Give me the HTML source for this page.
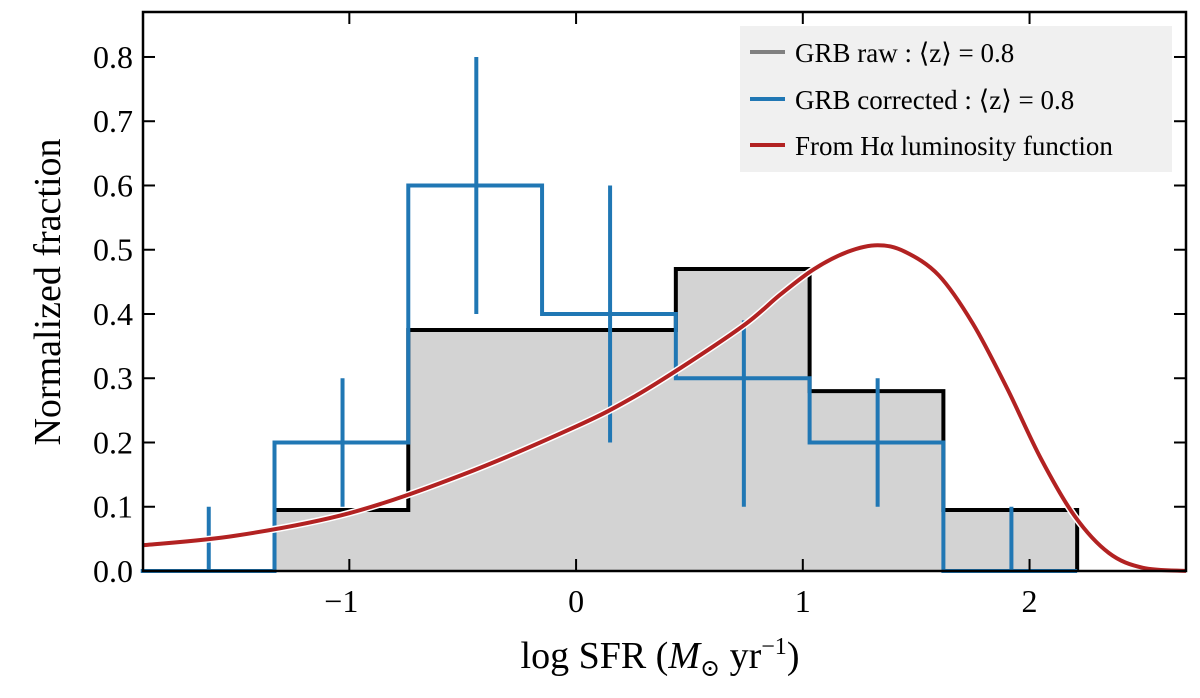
<!DOCTYPE html>
<html><head><meta charset="utf-8"><style>
body{margin:0;background:#fff;}
svg text{font-family:"Liberation Serif","DejaVu Serif",serif;fill:#000;}
</style></head><body>
<svg id="chart" width="1200" height="693" viewBox="0 0 1200 693" xmlns="http://www.w3.org/2000/svg">
<g id="plot"></g>
<g id="legend">
 <rect x="740" y="26" width="432" height="146" fill="#f0f0f0"/>
 <g><line x1="750" y1="52" x2="785" y2="52" stroke="#808080" stroke-width="4"/><text x="795" y="62" font-size="27">GRB raw :  ⟨z⟩ = 0.8</text></g>
 <g><line x1="750" y1="99" x2="785" y2="99" stroke="#2077b4" stroke-width="4"/><text x="795" y="109" font-size="27">GRB corrected :  ⟨z⟩ = 0.8</text></g>
 <g><line x1="750" y1="145" x2="785" y2="145" stroke="#b22222" stroke-width="4"/><text x="795" y="155" font-size="27">From Hα luminosity function</text></g>
</g>
<text x="660" y="668" font-size="38" text-anchor="middle">log SFR (<tspan font-style="italic">M</tspan><tspan font-size="24" dy="8">⊙</tspan><tspan dy="-8"> yr</tspan><tspan font-size="24" dy="-14">−1</tspan><tspan dy="14">)</tspan></text>
<text transform="translate(60,292) rotate(-90)" font-size="38" text-anchor="middle">Normalized fraction</text>
</svg>
<script>
const binEdges=[-1.92,-1.33,-0.74,-0.15,0.44,1.03,1.62,2.21];
const rawValues=[0,0.095,0.375,0.375,0.47,0.28,0.095];
const corrValues=[0,0.2,0.6,0.4,0.3,0.2,0];
const errCenters=[-1.62,-1.03,-0.44,0.15,0.74,1.33,1.92];
const errLow=[0,0.1,0.4,0.2,0.1,0.1,0];
const errHigh=[0.1,0.3,0.8,0.6,0.39,0.3,0.1];
const curveX=[-1.91,-1.5,-1,-0.5,0,0.25,0.5,0.75,0.9,1.05,1.2,1.33,1.45,1.6,1.75,1.9,2.05,2.2,2.35,2.5,2.69];
const curveY=[0.04,0.055,0.09,0.15,0.225,0.27,0.325,0.385,0.43,0.47,0.497,0.507,0.497,0.46,0.385,0.285,0.175,0.085,0.028,0.005,0];
const xTicks=[-1,0,1,2];
const yTicks=[0,0.1,0.2,0.3,0.4,0.5,0.6,0.7,0.8];
const X0=143,X1=1186,Y0=571,Y1=12,xmin=-1.91,xmax=2.69,ymax=0.87;
const sx=v=>X0+(v-xmin)/(xmax-xmin)*(X1-X0);
const sy=v=>Y0-v/ymax*(Y0-Y1);
const NS='http://www.w3.org/2000/svg';
const plot=document.getElementById('plot');
function mk(tag,attrs){const e=document.createElementNS(NS,tag);for(const k in attrs)e.setAttribute(k,attrs[k]);plot.appendChild(e);return e;}
let d=`M${sx(binEdges[1])},${sy(0)}`;
for(let i=1;i<rawValues.length;i++){d+=` L${sx(binEdges[i])},${sy(rawValues[i])} L${sx(binEdges[i+1])},${sy(rawValues[i])}`;}
d+=` L${sx(binEdges[binEdges.length-1])},${sy(0)}`;
let e=mk('path',{d:d+' Z',fill:'#d3d3d3',stroke:'none'});


e=mk('path',{d:d,fill:'none',stroke:'#000','stroke-width':4});


let c=`M${sx(binEdges[0])},${sy(corrValues[0])}`;
for(let i=0;i<corrValues.length;i++){c+=` L${sx(binEdges[i])},${sy(corrValues[i])} L${sx(binEdges[i+1])},${sy(corrValues[i])}`;}
e=mk('path',{d:c,fill:'none',stroke:'#2077b4','stroke-width':4});


for(let i=0;i<errCenters.length;i++){
 e=mk('line',{x1:sx(errCenters[i]),x2:sx(errCenters[i]),y1:sy(errLow[i]),y2:sy(errHigh[i]),stroke:'#2077b4','stroke-width':4});
 
 
}
let pts=curveX.map((x,i)=>[sx(x),sy(curveY[i])]);
let p=`M${pts[0][0]},${pts[0][1]}`;
for(let i=0;i<pts.length-1;i++){const a=pts[Math.max(0,i-1)],b=pts[i],q=pts[i+1],r=pts[Math.min(pts.length-1,i+2)];
 p+=` C${b[0]+(q[0]-a[0])/6},${b[1]+(q[1]-a[1])/6} ${q[0]-(r[0]-b[0])/6},${q[1]-(r[1]-b[1])/6} ${q[0]},${q[1]}`;}
e=mk('path',{d:p,fill:'none',stroke:'#fff','stroke-width':7});


e=mk('path',{d:p,fill:'none',stroke:'#b22222','stroke-width':4});


e=mk('rect',{x:X0,y:Y1,width:X1-X0,height:Y0-Y1,fill:'none',stroke:'#000','stroke-width':2.5});


xTicks.forEach(t=>{
 mk('line',{x1:sx(t),x2:sx(t),y1:Y0,y2:Y0-12,stroke:'#000','stroke-width':2});
 mk('line',{x1:sx(t),x2:sx(t),y1:Y1,y2:Y1+12,stroke:'#000','stroke-width':2});
 e=mk('text',{x:sx(t)-(t<0?8:0),y:612,'font-size':32,'text-anchor':'middle'});
 e.textContent=t<0?'−'+Math.abs(t):String(t);
 
 
});
yTicks.forEach(t=>{
 mk('line',{x1:X0,x2:X0+12,y1:sy(t),y2:sy(t),stroke:'#000','stroke-width':2});
 mk('line',{x1:X1,x2:X1-12,y1:sy(t),y2:sy(t),stroke:'#000','stroke-width':2});
 e=mk('text',{x:133,y:sy(t)+11,'font-size':32,'text-anchor':'end'});
 e.textContent=t.toFixed(1);
 
 
});
document.getElementById('chart').appendChild(document.getElementById('legend'));
</script>
</body></html>
